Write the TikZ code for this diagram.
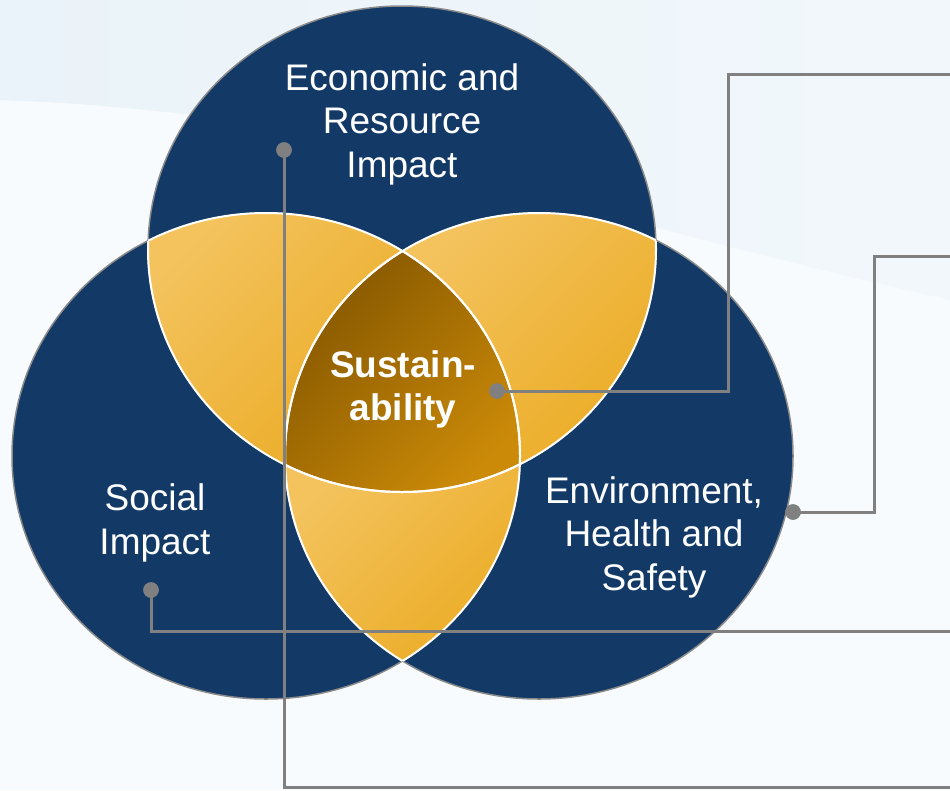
\documentclass[tikz,border=0pt]{standalone}
\usepackage{fontspec}
\setmainfont{Liberation Sans}
\definecolor{bgcol}{HTML}{F8FBFD}
\definecolor{bgblue}{HTML}{EAF3F9}
\definecolor{navy}{HTML}{133A67}
\definecolor{rimgray}{HTML}{8A8A8A}
\definecolor{goldlight}{HTML}{F4C35E}
\definecolor{golddark}{HTML}{EBAC25}
\definecolor{coredark}{HTML}{855700}
\definecolor{corelight}{HTML}{CB8A08}
\definecolor{conngray}{HTML}{808080}
\begin{document}
\begin{tikzpicture}[x=1pt,y=-1pt,
  conn/.style={draw=conngray,line width=3pt},
  dotnode/.style={circle,fill=conngray,inner sep=0pt,minimum size=15.5pt},
  lbl/.style={text=white,align=center,inner sep=0pt,font=\fontsize{37}{43.5}\selectfont},
  rim/.style={draw=rimgray,line width=1.5pt},
  seam/.style={draw=white,line width=2pt},
  goldshade/.style={top color=goldlight,bottom color=golddark,shading angle=45},
  coreshade/.style={top color=coredark,bottom color=corelight,shading angle=45}]
\useasboundingbox (0,0) rectangle (950,790);
% background
\fill[bgcol] (0,0) rectangle (950,790);
\shade[left color=bgblue,right color=bgblue!45!bgcol] (0,0) -- (0,100)
  .. controls (150,105) and (350,130) .. (480,175)
  .. controls (650,230) and (820,270) .. (950,300) -- (950,0) -- cycle;
% navy circles
\fill[navy] (402,249) ellipse [x radius=254pt, y radius=243pt];
\fill[navy] (266,456) ellipse [x radius=254pt, y radius=243pt];
\fill[navy] (539,456) ellipse [x radius=254pt, y radius=243pt];
\draw[rim] (402,249) ellipse [x radius=254pt, y radius=243pt];
\draw[rim] (266,456) ellipse [x radius=254pt, y radius=243pt];
\draw[rim] (539,456) ellipse [x radius=254pt, y radius=243pt];
% gold lenses
\begin{scope}
  \clip (402,249) ellipse [x radius=254pt, y radius=243pt];
  \clip (266,456) ellipse [x radius=254pt, y radius=243pt];
  \shade[goldshade] (145,210) rectangle (410,470);
\end{scope}
\begin{scope}
  \clip (402,249) ellipse [x radius=254pt, y radius=243pt];
  \clip (539,456) ellipse [x radius=254pt, y radius=243pt];
  \shade[goldshade] (395,210) rectangle (660,470);
\end{scope}
\begin{scope}
  \clip (266,456) ellipse [x radius=254pt, y radius=243pt];
  \clip (539,456) ellipse [x radius=254pt, y radius=243pt];
  \shade[goldshade] (285,455) rectangle (522,665);
\end{scope}
% core
\begin{scope}
  \clip (402,249) ellipse [x radius=254pt, y radius=243pt];
  \clip (266,456) ellipse [x radius=254pt, y radius=243pt];
  \clip (539,456) ellipse [x radius=254pt, y radius=243pt];
  \shade[coreshade] (285,250) rectangle (522,495);
\end{scope}
% white seams
\begin{scope}
  \clip (266,456) ellipse [x radius=254pt, y radius=243pt];
  \draw[seam] (402,249) ellipse [x radius=254pt, y radius=243pt];
  \draw[seam] (539,456) ellipse [x radius=254pt, y radius=243pt];
\end{scope}
\begin{scope}
  \clip (539,456) ellipse [x radius=254pt, y radius=243pt];
  \draw[seam] (402,249) ellipse [x radius=254pt, y radius=243pt];
  \draw[seam] (266,456) ellipse [x radius=254pt, y radius=243pt];
\end{scope}
\begin{scope}
  \clip (402,249) ellipse [x radius=254pt, y radius=243pt];
  \draw[seam] (266,456) ellipse [x radius=254pt, y radius=243pt];
  \draw[seam] (539,456) ellipse [x radius=254pt, y radius=243pt];
\end{scope}
% labels (anchor=base is the baseline of the last line)
\node[lbl,anchor=base] (econ) at (402,177) {Economic and\\Resource\\Impact};
\node[lbl,anchor=base] (social) at (155,554) {Social\\Impact};
\node[lbl,anchor=base] (env) at (654,590) {Environment,\\Health and\\Safety};
\node[lbl,anchor=base,font=\bfseries\fontsize{37}{42.5}\selectfont] (sust) at (403,420) {Sustain-\\ability};
% connectors
\coordinate (e1) at (950,787);
\coordinate (c2) at (728,74);
\coordinate (e2) at (950,74);
\coordinate (c3) at (874,256);
\coordinate (e3) at (950,256);
\coordinate (e4) at (950,631);
\node[dotnode] (d1) at (284,150) {};
\node[dotnode] (d2) at (497,391) {};
\node[dotnode] (d3) at (793,512) {};
\node[dotnode] (d4) at (151,590) {};
\draw[conn] (d1.center) |- (e1);
\draw[conn] (d2.center) -| (c2) -- (e2);
\draw[conn] (d3.center) -| (c3) -- (e3);
\draw[conn] (d4.center) |- (e4);
\node[dotnode] at (d1) {};
\node[dotnode] at (d2) {};
\node[dotnode] at (d3) {};
\node[dotnode] at (d4) {};
\end{tikzpicture}
\end{document}
